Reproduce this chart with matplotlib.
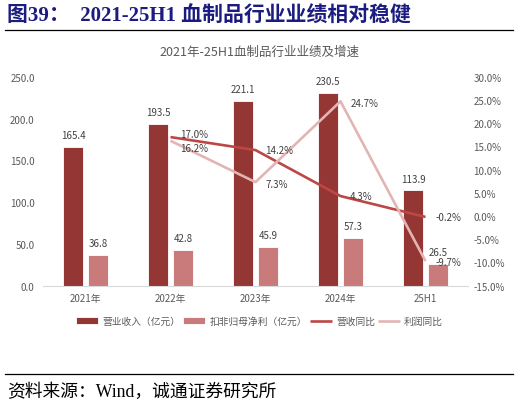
import matplotlib
matplotlib.use("Agg")
import matplotlib.pyplot as plt
import numpy as np

plt.rcParams['font.family'] = ['Noto Sans CJK SC', 'DejaVu Sans']

categories = ['2021年', '2022年', '2023年', '2024年', '25H1']
revenue = [165.4, 193.5, 221.1, 230.5, 113.9]
net_profit = [36.8, 42.8, 45.9, 57.3, 26.5]
rev_yoy = [None, 17.0, 14.2, 4.3, -0.2]
profit_yoy = [None, 16.2, 7.3, 24.7, -9.7]
left_ticks = [0, 50, 100, 150, 200, 250]
right_ticks = [-15, -10, -5, 0, 5, 10, 15, 20, 25, 30]

C_REV = '#943634'
C_NP = '#C97A7A'
C_RL = '#BC4845'
C_PL = '#E2B5B4'
GREY = '#595959'

W, H = 519, 406
fig = plt.figure(figsize=(W/100, H/100), dpi=100)
ax = fig.add_axes([43/W, 1-286.7/H, 425/W, 209/H])
ax2 = ax.twinx()

x = np.arange(len(categories))
bw = 0.23
off = 0.147
ax.bar(x - off, revenue, bw, color=C_REV, edgecolor='white', linewidth=0.6, label='营业收入（亿元）', zorder=2)
ax.bar(x + off, net_profit, bw, color=C_NP, edgecolor='white', linewidth=0.6, label='扣非归母净利（亿元）', zorder=2)
for xi, v in zip(x, revenue):
    ax.annotate(f'{v:.1f}', (xi - off, v), xytext=(0, 5), textcoords='offset points',
                ha='center', va='bottom', fontsize=7, color='#404040')
for xi, v in zip(x, net_profit):
    ax.annotate(f'{v:.1f}', (xi + off, v), xytext=(0, 5), textcoords='offset points',
                ha='center', va='bottom', fontsize=7, color='#404040')

ax.set_ylim(0, 250)
ax.set_xlim(-0.5, len(categories) - 0.5)
ax.set_yticks(left_ticks)
ax.set_yticklabels([f'{t:.1f}' for t in left_ticks])
ax.set_xticks(x)
ax.set_xticklabels(categories)

xl = [i for i, v in enumerate(rev_yoy) if v is not None]
rv = [rev_yoy[i] for i in xl]
pv = [profit_yoy[i] for i in xl]
ax2.plot(xl, rv, color=C_RL, lw=1.9, label='营收同比', zorder=3, solid_capstyle='butt')
ax2.plot(xl, pv, color=C_PL, lw=1.9, label='利润同比', zorder=3, solid_capstyle='butt')
rv_dy = [2, 0, 0, 0]
pv_dy = [-5, -1, -1, -1]
for xi, v, dy in zip(xl, rv, rv_dy):
    ax2.annotate(f'{v:.1f}%', (xi, v), xytext=(7, dy), textcoords='offset points',
                 ha='left', va='center', fontsize=7, color='#404040')
for xi, v, dy in zip(xl, pv, pv_dy):
    ax2.annotate(f'{v:.1f}%', (xi, v), xytext=(7, dy), textcoords='offset points',
                 ha='left', va='center', fontsize=7, color='#404040')
ax2.set_ylim(-15, 30)
ax2.set_yticks(right_ticks)
ax2.set_yticklabels([f'{t:.1f}%' for t in right_ticks])

for a in (ax, ax2):
    for s in a.spines.values():
        s.set_visible(False)
    a.tick_params(length=0, labelsize=7, labelcolor=GREY)
ax.spines['bottom'].set_visible(True)
ax.spines['bottom'].set_color('#D9D9D9')
ax.spines['bottom'].set_linewidth(0.8)
ax.tick_params(axis='y', pad=6)
ax.tick_params(axis='x', pad=5)
ax2.tick_params(axis='y', pad=4)

h1, l1 = ax.get_legend_handles_labels()
h2, l2 = ax2.get_legend_handles_labels()
fig.legend(h1 + h2, l1 + l2, loc='center', bbox_to_anchor=(0.5, 1 - 322/H), ncol=4,
           frameon=False, fontsize=7, labelcolor=GREY, handlelength=2.3, handleheight=0.7,
           columnspacing=0.3, handletextpad=0.4)

fig.text(0.5, 1 - 52/H, '2021年-25H1血制品行业业绩及增速', ha='center', va='center',
         fontsize=9, color=GREY)

fig.text(7/W, 1 - 17/H, '图39：  2021-25H1 血制品行业业绩相对稳健', ha='left', va='center',
         fontsize=15, fontweight='bold', color='#1C1C80',
         family=['Liberation Serif', 'Noto Sans CJK SC'])
fig.add_artist(plt.Line2D([5/W, 513/W], [1 - 31/H, 1 - 31/H], color='black', lw=0.9))
fig.add_artist(plt.Line2D([5/W, 513/W], [1 - 375/H, 1 - 375/H], color='black', lw=0.9))
fig.text(7/W, 1 - 392/H, '资料来源：Wind，诚通证券研究所', ha='left', va='center',
         fontsize=12.8, color='black', family=['Liberation Serif', 'Noto Sans CJK SC'])

fig.savefig('out.png', dpi=100)
